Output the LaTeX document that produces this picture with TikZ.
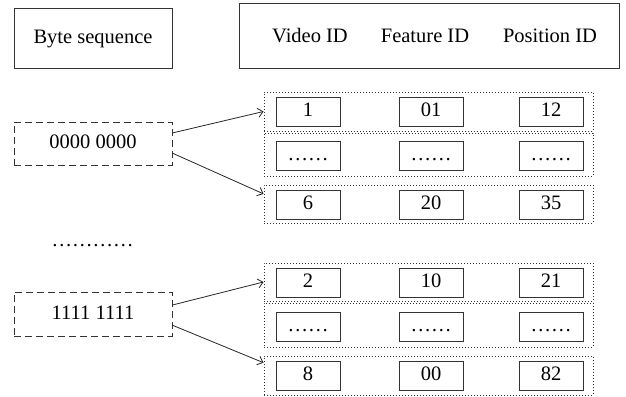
\documentclass[tikz,border=0pt]{standalone}
\usepackage{fontspec}
\setmainfont{Liberation Serif}
\usetikzlibrary{arrows.meta,calc}
\begin{document}
\begin{tikzpicture}[x=1pt,y=-1pt,
  font=\fontsize{20.5}{24}\selectfont,
  solidbox/.style={draw=black!80,line width=1pt,inner sep=0pt,text height=14pt,text depth=4pt},
  dashbox/.style={draw=black!80,line width=1pt,dash pattern=on 7pt off 4pt,inner sep=0pt,minimum width=158pt,text height=14pt,text depth=4pt},
  rowbox/.style={draw=black!80,line width=1pt,dotted,inner sep=0pt,minimum width=329pt},
  cell/.style={solidbox,minimum width=64pt,minimum height=29pt},
  lbl/.style={inner sep=0pt,text height=14pt,text depth=4pt},
  arr/.style={draw=black!85,line width=0.8pt,-{Straight Barb[length=5pt,width=9pt]}}
]
\useasboundingbox (0,0) rectangle (626,396);

% headers
\node[solidbox,minimum width=158pt,minimum height=59pt] (bs) at (93,38.5) {Byte sequence};
\node[solidbox,minimum width=380pt,minimum height=64pt] (hdr) at (429,36) {};
\node[lbl] (vid) at (310,38) {Video ID};
\node[lbl] (fid) at (425,38) {Feature ID};
\node[lbl] (pid) at (550,38) {Position ID};

% dotted rows
\node[rowbox,minimum height=39pt] (r1) at (428.5,111.5) {};
\node[rowbox,minimum height=43pt] (r2) at (428.5,154.5) {};
\node[rowbox,minimum height=38pt] (r3) at (428.5,204) {};
\node[rowbox,minimum height=38pt] (r4) at (428.5,282) {};
\node[rowbox,minimum height=44pt] (r5) at (428.5,325) {};
\node[rowbox,minimum height=39pt] (r6) at (428.5,375.5) {};

% cells
\node[cell] (c11) at (308,111.5) {1};
\node[cell] (c12) at (431,111.5) {01};
\node[cell] (c13) at (551,111.5) {12};
\node[cell] (c21) at (308,155.5) {……};
\node[cell] (c22) at (431,155.5) {……};
\node[cell] (c23) at (551,155.5) {……};
\node[cell] (c31) at (308,204.5) {6};
\node[cell] (c32) at (431,204.5) {20};
\node[cell] (c33) at (551,204.5) {35};
\node[cell] (c41) at (308,282.5) {2};
\node[cell] (c42) at (431,282.5) {10};
\node[cell] (c43) at (551,282.5) {21};
\node[cell] (c51) at (308,326.5) {……};
\node[cell] (c52) at (431,326.5) {……};
\node[cell] (c53) at (551,326.5) {……};
\node[cell] (c61) at (308,375.5) {8};
\node[cell] (c62) at (431,375.5) {00};
\node[cell] (c63) at (551,375.5) {82};

% byte boxes
\node[dashbox,minimum height=43pt] (b0) at (93,143.5) {0000 0000};
\node[dashbox,minimum height=44pt] (b1) at (93,314) {1111 1111};
\node[inner sep=0pt,anchor=base] (vdots) at (92.5,246) {…………};

% arrows
\draw[arr] ($(b0.north east)!0.26!(b0.south east)$) -- (r1.west);
\draw[arr] ($(b0.north east)!0.72!(b0.south east)$) -- ($(r3.north west)!0.24!(r3.south west)$);
\draw[arr] ($(b1.north east)!0.3!(b1.south east)$) -- (r4.west);
\draw[arr] ($(b1.north east)!0.75!(b1.south east)$) -- ($(r6.north west)!0.18!(r6.south west)$);
\end{tikzpicture}
\end{document}
